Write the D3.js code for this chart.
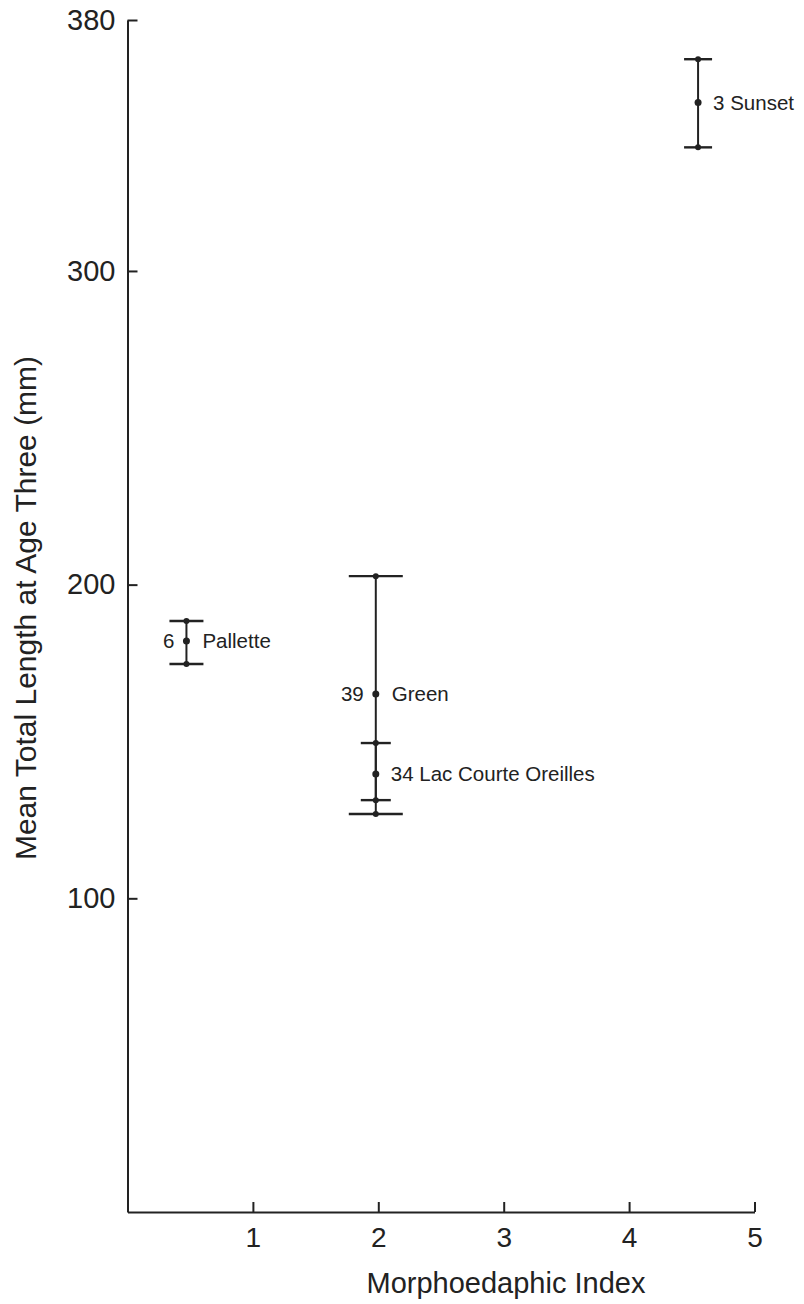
<!DOCTYPE html>
<meta charset="utf-8">
<html lang="en"></html>

<!-- load d3.js -->
<script src="https://d3js.org/d3.v7.min.js"></script>

<style>
  body { margin: 0; background: #fff; }
  svg text { font-family: "Liberation Sans", Arial, Helvetica, sans-serif; fill: #222; }
</style>

<div id="chart"></div>

<script>
    // data
    const lakes = ["Pallette", "Green", "Lac Courte Oreilles", "Sunset"];
    const sampleN = [6, 39, 34, 3];
    const morphoIndex = [0.47, 1.98, 1.98, 4.55];
    const meanLength = [182.0, 165.1, 139.6, 353.7];
    const lowerLength = [174.7, 126.9, 131.3, 339.4];
    const upperLength = [188.4, 202.7, 149.5, 367.5];
    const yTicks = [100, 200, 300, 380];
    const xTicks = [1, 2, 3, 4, 5];

    // drawing details (not data)
    const capHalf = [17, 27, 15, 14];
    const nLeft = [true, true, false, false];

    const width = 804, height = 1304;

    const svg = d3.select("#chart")
        .append("svg")
            .attr("width", width)
            .attr("height", height);

    const x = d3.scaleLinear()
        .domain([0, 5])
        .range([127.5, 754.5]);

    const y = d3.scaleLinear()
        .domain([0, 380])
        .range([1212, 20]);

    // X axis
    const gx = svg.append("g")
        .attr("transform", "translate(0,1212)")
        .call(d3.axisBottom(x)
            .tickValues(xTicks)
            .tickFormat(d3.format("d"))
            .tickSize(-10)
            .tickSizeOuter(0)
            .tickPadding(15));
    gx.selectAll("text")
        .style("font-size", "28px");

    // Y axis
    const gy = svg.append("g")
        .attr("transform", "translate(127.5,0)")
        .call(d3.axisLeft(y)
            .tickValues(yTicks)
            .tickFormat(d3.format("d"))
            .tickSize(-10)
            .tickSizeOuter(0)
            .tickPadding(12));
    gy.selectAll("text")
        .style("font-size", "29px");

    svg.selectAll(".domain, .tick line")
        .attr("stroke", "#222")
        .attr("stroke-width", 2);

    // axis titles
    svg.append("text")
        .text("Morphoedaphic Index")
        .attr("x", 506)
        .attr("y", 1293)
        .attr("text-anchor", "middle")
        .style("font-size", "29px");

    svg.append("text")
        .text("Mean Total Length at Age Three (mm)")
        .attr("transform", "translate(36,608) rotate(-90)")
        .attr("text-anchor", "middle")
        .style("font-size", "30px");

    const rows = lakes.map(function(d, i) {
        return {name: d, n: sampleN[i], mi: morphoIndex[i], mean: meanLength[i],
                lo: lowerLength[i], hi: upperLength[i], cap: capHalf[i], left: nLeft[i]};
    });

    const g = svg.append("g").selectAll("g")
        .data(rows)
        .enter()
        .append("g");

    // vertical range lines
    g.append("line")
        .attr("x1", function(d) { return x(d.mi); })
        .attr("x2", function(d) { return x(d.mi); })
        .attr("y1", function(d) { return y(d.hi); })
        .attr("y2", function(d) { return y(d.lo); })
        .attr("stroke", "#222")
        .attr("stroke-width", 2);

    // caps
    ["hi", "lo"].forEach(function(k) {
        g.append("line")
            .attr("x1", function(d) { return x(d.mi) - d.cap; })
            .attr("x2", function(d) { return x(d.mi) + d.cap; })
            .attr("y1", function(d) { return y(d[k]); })
            .attr("y2", function(d) { return y(d[k]); })
            .attr("stroke", "#222")
            .attr("stroke-width", 2.4);
        g.append("circle")
            .attr("cx", function(d) { return x(d.mi); })
            .attr("cy", function(d) { return y(d[k]); })
            .attr("r", 3)
            .attr("fill", "#222");
    });

    // mean dots
    g.append("circle")
        .attr("cx", function(d) { return x(d.mi); })
        .attr("cy", function(d) { return y(d.mean); })
        .attr("r", 3.5)
        .attr("fill", "#222");

    // labels
    g.filter(function(d) { return d.left; })
        .append("text")
        .text(function(d) { return d.n; })
        .attr("x", function(d) { return x(d.mi) - 12; })
        .attr("y", function(d) { return y(d.mean); })
        .attr("dy", "0.35em")
        .attr("text-anchor", "end")
        .style("font-size", "20.5px");

    g.append("text")
        .text(function(d) { return d.left ? d.name : d.n + " " + d.name; })
        .attr("x", function(d) { return x(d.mi) + (d.left ? 16 : 15); })
        .attr("y", function(d) { return y(d.mean); })
        .attr("dy", "0.35em")
        .style("font-size", "20.5px");
</script>
